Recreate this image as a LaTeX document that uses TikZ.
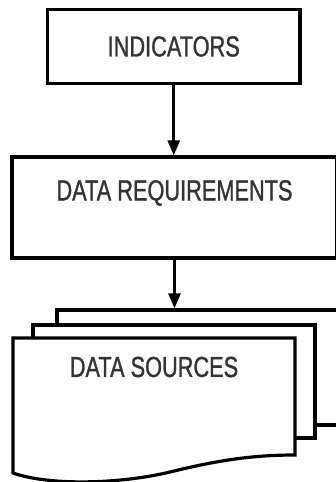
\documentclass[tikz,border=0pt]{standalone}
\usepackage{fontspec}
\newfontfamily\boxfont[FakeStretch=0.75,FakeBold=1]{Liberation Sans}
\usetikzlibrary{arrows.meta,positioning}

\begin{document}
\begin{tikzpicture}[
        x=1pt, y=-1pt,
        boxline/.style={draw, line width=3.2pt},
        boxtext/.style={font=\boxfont\fontsize{29}{32}\selectfont, text=black!80, inner sep=0pt},
        stepbox/.style={boxline, boxtext, rectangle, fill=white, align=center},
        sheet/.style={stepbox, minimum width=282pt, minimum height=115pt},
        flow/.style={-{Triangle[length=15pt,width=12pt]}, line width=2.6pt},
    ]
        \useasboundingbox (0,0) rectangle (335,482);
        \node[stepbox, minimum width=252.5pt, minimum height=73.5pt] (indicators) at (173.75,46.5) {INDICATORS};
        \node[stepbox, minimum width=325pt, minimum height=101pt] (req) at (174.5,207.5) {};
        \node[boxtext] (reqtext) at (174.5,193) {DATA REQUIREMENTS};

        % stacked sheets, front one with the wavy bottom
        \node[sheet] (back) at (198,367.5) {};
        \node[sheet, minimum height=113pt] (middle) at (174,381.5) {};
        \coordinate (front nw) at (13,338);
        \coordinate (front se) at (295,455);
        \filldraw[boxline, fill=white] (front nw) -- (front nw -| front se) -- (front se)
            .. controls (250,455) and (215,461) .. (170,472)
            .. controls (120,484) and (50,486) .. (13,473) -- cycle;
        \node[boxtext] (sources) at (154,367) {DATA SOURCES};

        \draw[flow] (indicators.south) -- (indicators.south |- req.north);
        \draw[flow] (req.south) -- (req.south |- back.north);
\end{tikzpicture}
\end{document}
